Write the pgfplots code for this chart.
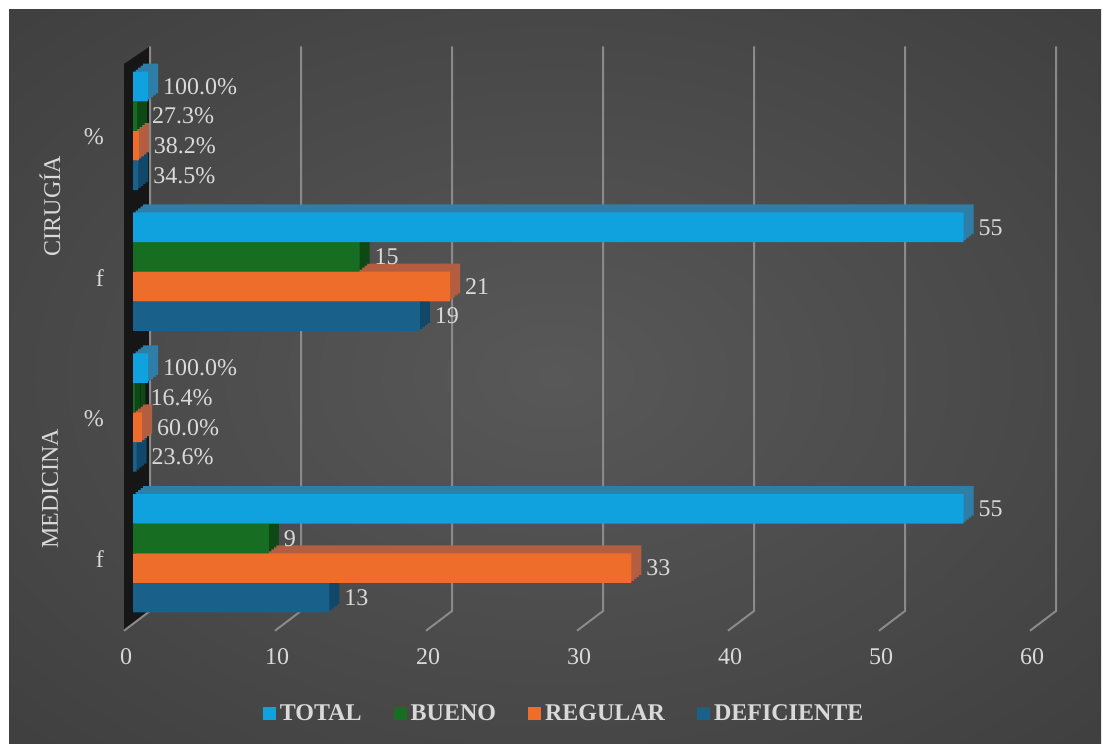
\documentclass[border=0pt]{standalone}
\usepackage{fontspec}
\setmainfont{Liberation Serif}
\usepackage{pgfplots}
\pgfplotsset{compat=1.18}
\definecolor{txt}{HTML}{D9D9D9}
\definecolor{bgin}{HTML}{585858}
\definecolor{bgout}{HTML}{262626}
\definecolor{gridc}{HTML}{8A8A8A}
\definecolor{wallc}{HTML}{161616}
\definecolor{tot}{HTML}{0FA2DE}\definecolor{totS}{HTML}{2E7EA8}
\definecolor{bue}{HTML}{176E22}\definecolor{bueS}{HTML}{0E4815}
\definecolor{reg}{HTML}{EE6D2B}\definecolor{regS}{HTML}{B35E40}
\definecolor{def}{HTML}{19618B}\definecolor{defS}{HTML}{11486A}
\pgfdeclareradialshading{bgshade}{\pgfpoint{0bp}{0bp}}{color(0bp)=(bgin); color(72bp)=(bgout)}
\newcommand\depthbars[3]{%
  \pgfplotsinvokeforeach{1,2,3,4}{%
    \addplot[draw=none, fill=#1, forget plot, bar shift=#2, xshift=##1*1.25pt, yshift=##1*1pt] coordinates {#3};
  }%
}
\begin{document}
\begin{tikzpicture}[font=\fontsize{12}{14.4}\selectfont]
\begin{scope}[x=0.5pt,y=-0.5pt]
\fill[white] (0,0) rectangle (1103,744);
\shade[shading=bgshade] (9,9) rectangle (1101,744);
\end{scope}
\begin{axis}[
  at={(66.5pt,-315.35pt)}, anchor=south west,
  scale only axis, x=7.55pt, y=70.4pt,
  xmin=0, xmax=60, ymin=-0.55, ymax=3.6,
  clip=false,
  axis line style={draw=none}, major tick length=0pt,
  xtick={0,10,...,60}, ytick={0,1,2,3}, yticklabels={f,\%,f,\%},
  tick label style={text=txt},
  xticklabel style={xshift=-3.5pt, yshift=-5.6pt},
  yticklabel style={xshift=-11pt, yshift=-3pt},
  /pgf/number format/assume math mode=true,
  xbar, bar width=14.8pt,
  point meta=explicit symbolic,
  nodes near coords style={text=txt, anchor=west, xshift=4pt},
  legend style={at={(0.477,-0.142)}, anchor=center, draw=none, fill=none, text=txt,
    font=\bfseries\fontsize{12}{14.4}\selectfont, legend columns=4,
    /tikz/every even column/.append style={column sep=14pt}},
  legend image code/.code={\fill[#1,draw=none] (0pt,-3.25pt) rectangle (6.5pt,3.25pt);},
  front/.style={draw=none, fill=#1, forget plot, nodes near coords},
]
\fill[wallc] ([xshift=-4.5pt]axis cs:0,-0.55) -- ([xshift=8.5pt]axis cs:0,-0.41) -- ([xshift=8.5pt]axis cs:0,3.6) -- ([xshift=-4.5pt]axis cs:0,3.475) -- cycle;
\pgfplotsinvokeforeach{0,10,20,30,40,50,60}{
  \draw[gridc, line width=1pt] ([xshift=8.5pt]axis cs:#1,3.6) -- ([xshift=8.5pt]axis cs:#1,-0.41) -- ([xshift=-4.5pt]axis cs:#1,-0.55);
}
% DEFICIENTE
\depthbars{defS}{-22.2pt}{(13,0) (0.236,1) (19,2) (0.345,3)}
\addplot[front=def, bar shift=-22.2pt] coordinates {(13,0) [13] (0.236,1) [23.6\%] (19,2) [19] (0.345,3) [34.5\%]};
% REGULAR
\depthbars{regS}{-7.4pt}{(33,0) (0.6,1) (21,2) (0.382,3)}
\addplot[front=reg, bar shift=-7.4pt] coordinates {(33,0) [33] (0.6,1) [60.0\%] (21,2) [21] (0.382,3) [38.2\%]};
% BUENO
\depthbars{bueS}{7.4pt}{(9,0) (0.164,1) (15,2) (0.273,3)}
\addplot[front=bue, bar shift=7.4pt] coordinates {(9,0) [9] (0.164,1) [16.4\%] (15,2) [15] (0.273,3) [27.3\%]};
% TOTAL
\depthbars{totS}{22.2pt}{(55,0) (1,1) (55,2) (1,3)}
\addplot[front=tot, bar shift=22.2pt] coordinates {(55,0) [55] (1,1) [100.0\%] (55,2) [55] (1,3) [100.0\%]};
\addlegendimage{fill=tot}\addlegendentry{TOTAL}
\addlegendimage{fill=bue}\addlegendentry{BUENO}
\addlegendimage{fill=reg}\addlegendentry{REGULAR}
\addlegendimage{fill=def}\addlegendentry{DEFICIENTE}
\node[text=txt, rotate=90] at ([xshift=-41.5pt, yshift=-3pt]axis cs:0,0.5) {MEDICINA};
\node[text=txt, rotate=90] at ([xshift=-41.5pt, yshift=-2.5pt]axis cs:0,2.5) {CIRUGÍA};
\end{axis}
\end{tikzpicture}
\end{document}
